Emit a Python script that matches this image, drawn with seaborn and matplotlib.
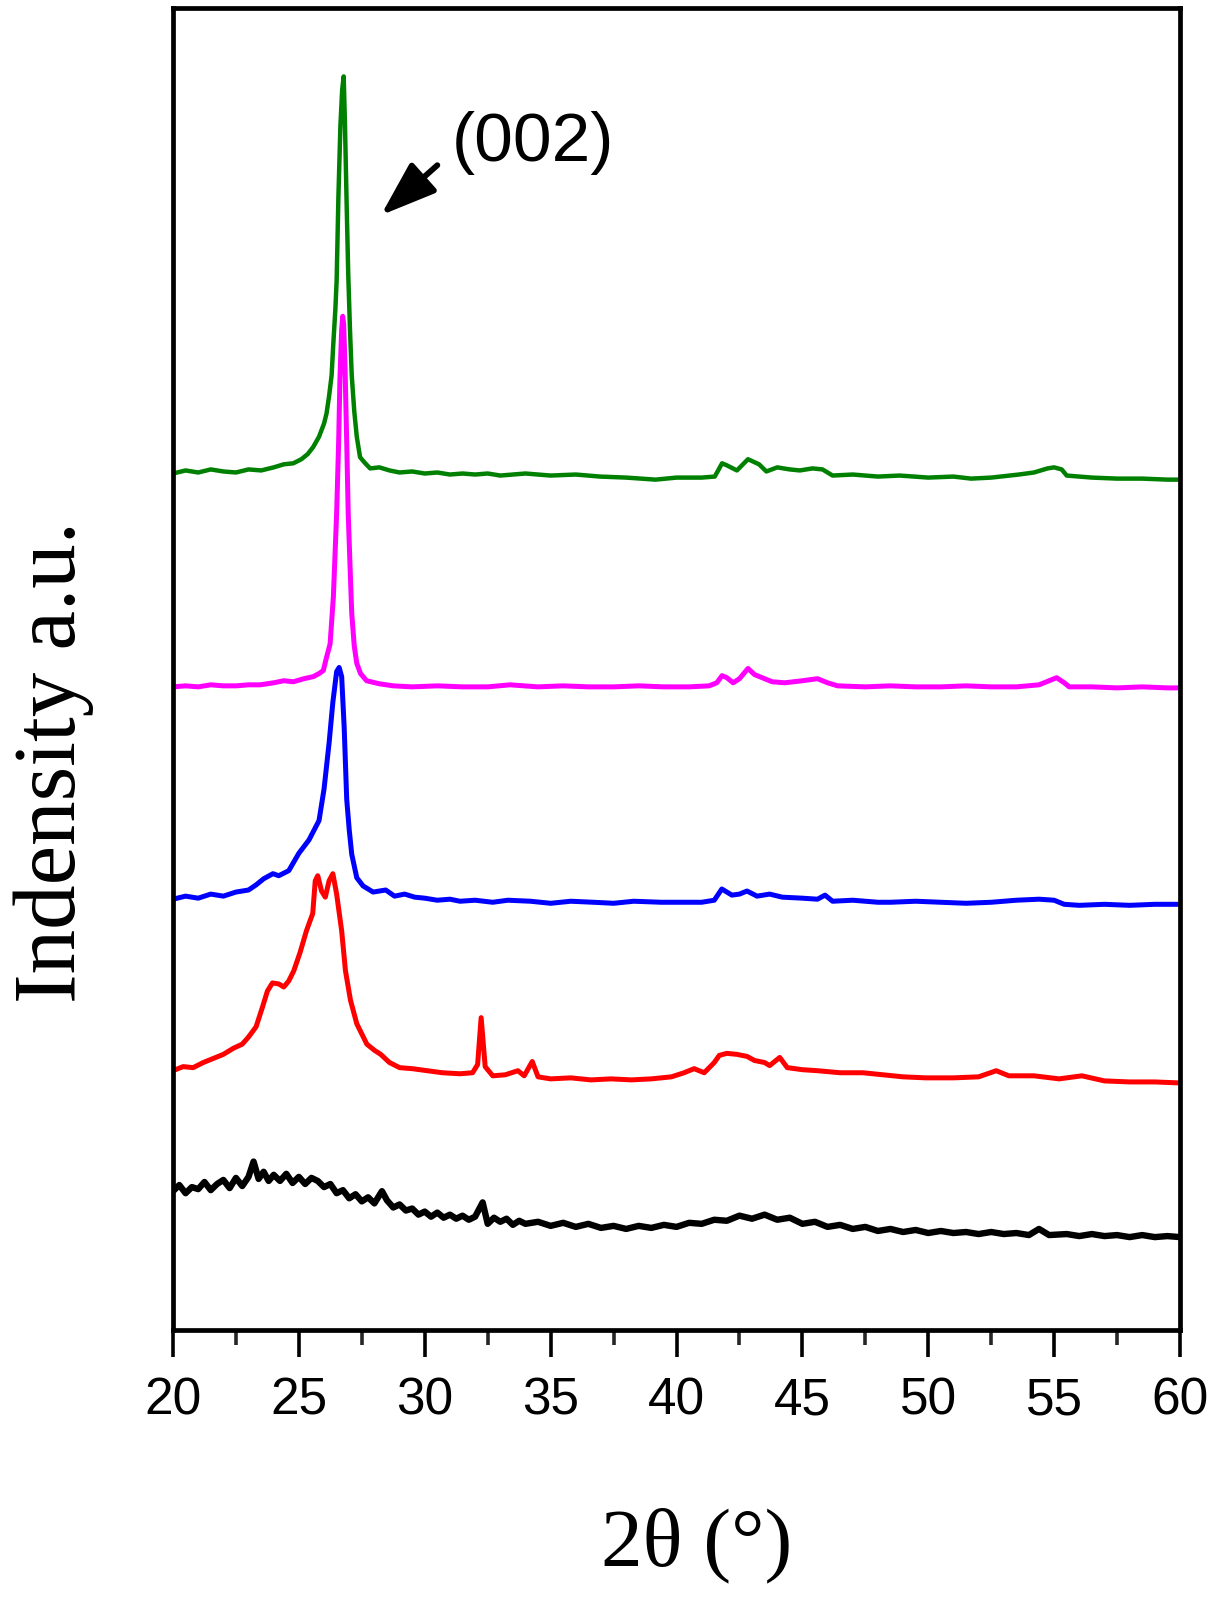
import numpy as np
import pandas as pd
import matplotlib
matplotlib.use("Agg")
import matplotlib.pyplot as plt
from matplotlib.ticker import MultipleLocator
import seaborn as sns

# ---------------- data ----------------
black_x = [20.0, 20.25, 20.5, 20.75, 21.0, 21.25, 21.5, 21.75, 22.0, 22.25, 22.5, 22.75,
           23.0, 23.2, 23.4, 23.6, 23.8, 24.0, 24.25, 24.5, 24.75, 25.0, 25.25, 25.5,
           25.75, 26.0, 26.25, 26.5, 26.75, 27.0, 27.25, 27.5, 27.75, 28.0, 28.3, 28.5,
           28.75, 29.0, 29.25, 29.5, 29.75, 30.0, 30.25, 30.5, 30.75, 31.0, 31.25, 31.5,
           31.75, 32.0, 32.3, 32.5, 32.75, 33.0, 33.25, 33.5, 33.75, 34.0, 34.5, 35.0,
           35.5, 36.0, 36.5, 37.0, 37.5, 38.0, 38.5, 39.0, 39.5, 40.0, 40.5, 41.0, 41.5,
           42.0, 42.5, 43.0, 43.5, 44.0, 44.5, 45.0, 45.5, 46.0, 46.5, 47.0, 47.5, 48.0,
           48.5, 49.0, 49.5, 50.0, 50.5, 51.0, 51.5, 52.0, 52.5, 53.0, 53.5, 54.0, 54.4,
           54.8, 55.5, 56.0, 56.5, 57.0, 57.5, 58.0, 58.5, 59.0, 59.5, 60.0]
black_y = [136, 142, 134, 140, 138, 145, 137, 143, 147, 139, 149, 141,
           150, 165, 148, 155, 146, 152, 146, 153, 144, 150, 143, 149,
           146, 140, 143, 134, 137, 129, 133, 126, 130, 124, 136, 127,
           120, 123, 117, 119, 113, 116, 111, 115, 110, 113, 109, 112,
           108, 111, 125, 104, 110, 106, 109, 103, 107, 104, 106, 102,
           105, 101, 104, 100, 102, 99, 102, 100, 103, 101, 105, 104, 108,
           107, 112, 109, 113, 108, 110, 104, 106, 101, 103, 99, 101, 97,
           99, 96, 98, 95, 97, 95, 96, 94, 96, 94, 95, 93, 99,
           93, 94, 92, 94, 92, 93, 91, 93, 91, 92, 91]

red_x = [20.0, 20.4, 20.8, 21.2, 21.6, 22.0, 22.4, 22.75, 23.0, 23.3, 23.55, 23.75,
         23.95, 24.2, 24.4, 24.6, 24.8, 25.05, 25.3, 25.55, 25.65, 25.75, 25.9, 26.05,
         26.2, 26.35, 26.5, 26.7, 26.85, 27.05, 27.3, 27.7, 28.0, 28.25, 28.6, 29.0,
         29.5, 30.1, 30.7, 31.4, 31.9, 32.1, 32.24, 32.4, 32.7, 33.2, 33.7, 33.95,
         34.27, 34.5, 35.0, 35.8, 36.6, 37.4, 38.2, 39.0, 39.8, 40.3, 40.7, 41.1,
         41.5, 41.7, 42.0, 42.4, 42.8, 43.1, 43.5, 43.7, 44.1, 44.4, 45.0, 45.6,
         46.5, 47.4, 48.2, 49.0, 49.9, 51.0, 52.0, 52.7, 53.2, 54.2, 55.2, 56.1,
         57.0, 58.0, 59.0, 60.0]
red_y = [254, 258, 257, 262, 266, 270, 276, 280, 287, 297, 316, 332,
         340, 339, 336, 342, 352, 370, 391, 408, 440, 445, 430, 424,
         440, 447, 427, 391, 352, 323, 300, 280, 274, 270, 262, 257,
         256, 254, 252, 251, 252, 260, 306, 258, 249, 250, 254, 249,
         263, 248, 246, 247, 245, 246, 245, 246, 248, 252, 256, 252,
         262, 269, 271, 270, 268, 264, 262, 259, 267, 257, 255, 254,
         252, 252, 250, 248, 247, 247, 248, 254, 249, 249, 246, 249,
         244, 243, 243, 242]

blue_x = [20.0, 20.5, 21.0, 21.5, 22.0, 22.5, 23.0, 23.3, 23.6, 23.97, 24.2, 24.6,
          25.0, 25.4, 25.8, 26.0, 26.2, 26.35, 26.5, 26.6, 26.7, 26.8, 26.9, 27.0,
          27.1, 27.3, 27.55, 27.95, 28.45, 28.8, 29.2, 29.6, 30.0, 30.5, 31.0, 31.4,
          32.0, 32.7, 33.3, 34.2, 35.0, 35.8, 36.7, 37.5, 38.3, 39.4, 40.2, 41.0,
          41.5, 41.8, 42.2, 42.5, 42.8, 43.2, 43.7, 44.2, 45.0, 45.6, 45.9, 46.2,
          47.0, 48.0, 48.5, 49.5, 50.5, 51.5, 52.5, 53.5, 54.4, 55.0, 55.4, 56.0,
          57.0, 58.0, 59.0, 60.0]
blue_y = [422, 425, 423, 427, 425, 429, 431, 436, 442, 447, 445, 450,
          467, 480, 499, 530, 575, 615, 645, 649, 640, 590, 520, 490,
          466, 443, 435, 429, 431, 425, 427, 424, 423, 421, 422, 420,
          421, 419, 421, 420, 418, 420, 419, 418, 420, 419, 419, 419,
          421, 432, 426, 427, 430, 425, 427, 424, 423, 422, 426, 420,
          421, 419, 419, 420, 419, 418, 419, 421, 422, 421, 417, 416,
          417, 416, 417, 417]

magenta_x = [20.0, 20.5, 21.0, 21.5, 22.0, 22.5, 23.0, 23.46, 24.0, 24.4, 24.78, 25.2,
             25.57, 25.8, 25.97, 26.10, 26.24, 26.37, 26.50, 26.58, 26.63, 26.70, 26.74,
             26.78, 26.83, 26.90, 26.96, 27.03, 27.10, 27.20, 27.30, 27.45, 27.69, 28.2,
             28.75, 29.5, 30.5, 31.5, 32.5, 33.39, 34.5, 35.5, 36.5, 37.5, 38.5, 39.5,
             40.5, 41.3, 41.6, 41.81, 42.0, 42.25, 42.5, 42.84, 43.1, 43.4, 43.8, 44.3,
             45.0, 45.6, 46.0, 46.4, 47.5, 48.5, 49.5, 50.5, 51.5, 52.5, 53.5, 54.4,
             54.8, 55.1, 55.4, 55.6, 56.5, 57.5, 58.5, 59.5, 60.0]
magenta_y = [630, 631, 630, 632, 631, 631, 632, 632, 634, 636, 635, 638,
             640, 643, 646, 659, 672, 718, 800, 870, 931, 980, 993,
             985, 947, 870, 800, 750, 702, 670, 653, 643, 636, 633,
             631, 630, 631, 630, 630, 632, 630, 631, 630, 630, 631, 630,
             630, 631, 634, 641, 639, 634, 638, 648, 642, 639, 635, 634,
             636, 638, 634, 631, 630, 631, 630, 630, 631, 630, 630, 632,
             636, 639, 634, 630, 630, 629, 630, 629, 629]

green_x = [20.0, 20.5, 21.0, 21.5, 22.0, 22.5, 23.0, 23.5, 24.0, 24.4, 24.78, 25.1,
           25.35, 25.57, 25.8, 26.0, 26.1, 26.2, 26.3, 26.37, 26.45, 26.5, 26.57, 26.65,
           26.72, 26.78, 26.83, 26.9, 26.96, 27.03, 27.1, 27.2, 27.3, 27.43, 27.6, 27.83,
           28.2, 28.6, 29.0, 29.5, 30.0, 30.5, 31.0, 31.5, 32.0, 32.5, 33.0, 33.5,
           34.0, 35.0, 36.0, 36.96, 38.0, 39.17, 40.0, 41.0, 41.52, 41.81, 42.0, 42.4,
           42.84, 43.28, 43.57, 44.0, 44.5, 44.9, 45.4, 45.8, 46.2, 47.0, 48.0, 48.87,
           50.0, 51.0, 51.7, 52.5, 53.6, 54.2, 54.74, 55.0, 55.3, 55.5, 56.5, 57.5,
           58.5, 59.5, 60.0]
green_y = [839, 842, 840, 843, 841, 840, 843, 842, 845, 848, 849, 853,
           858, 865, 875, 888, 898, 915, 935, 967, 1000, 1028, 1110, 1180,
           1215, 1228, 1182, 1100, 1035, 980, 935, 900, 875, 855, 850, 844,
           845, 842, 840, 841, 839, 840, 838, 839, 838, 839, 837, 838,
           839, 837, 838, 836, 835, 833, 835, 835, 836, 849, 847, 842,
           853, 848, 841, 845, 843, 842, 844, 843, 837, 838, 836, 837,
           835, 836, 834, 835, 838, 840, 844, 845, 843, 837, 835, 834,
           834, 833, 833]

series_names = ["black", "red", "blue", "magenta", "green"]
series_colors = ["#000000", "#FF0000", "#0000FF", "#FF00FF", "#008000"]
x_ticks = [20, 25, 30, 35, 40, 45, 50, 55, 60]
peak_label = "(002)"
x_label = "2\u03b8 (\u00b0)"
y_label = "Indensity a.u."

# ---------------- build long-form table ----------------
frames = []
for name, xs, ys in [("black", black_x, black_y), ("red", red_x, red_y),
                     ("blue", blue_x, blue_y), ("magenta", magenta_x, magenta_y),
                     ("green", green_x, green_y)]:
    frames.append(pd.DataFrame({"two_theta": xs, "intensity": ys, "sample": name}))
df = pd.concat(frames, ignore_index=True)

# ---------------- figure ----------------
sns.set_theme(style="white")
plt.rcParams["font.family"] = ["Liberation Sans", "DejaVu Sans"]

fig = plt.figure(figsize=(12.16, 15.99), dpi=100)
ax = fig.add_axes([173 / 1216, 1 - 1330 / 1599, 1007 / 1216, 1322 / 1599])

line_widths = {"black": 4.6, "red": 3.6, "blue": 3.6, "magenta": 3.6, "green": 3.2}
for name, color in zip(series_names, series_colors):
    sub = df[df["sample"] == name]
    sns.lineplot(data=sub, x="two_theta", y="intensity", color=color,
                 estimator=None, sort=False, legend=False,
                 linewidth=line_widths[name], ax=ax)

ax.set_xlim(20, 60)
ax.set_ylim(0, 1295)
ax.set_xticks(x_ticks)
ax.set_xticklabels([str(t) for t in x_ticks])
ax.xaxis.set_minor_locator(MultipleLocator(2.5))
ax.set_yticks([])

for sp in ax.spines.values():
    sp.set_visible(True)
    sp.set_color("black")
    sp.set_linewidth(3.4)

ax.tick_params(axis="x", which="major", direction="out", length=19.5, width=2.6,
               pad=14, labelsize=37, colors="black", bottom=True, top=False)
ax.tick_params(axis="x", which="minor", direction="out", length=11, width=2.6,
               bottom=True, top=False)

serif = ["Liberation Serif", "DejaVu Serif"]
ax.set_xlabel(x_label, fontsize=60, family=serif, color="black")
ax.xaxis.set_label_coords(0.52, -0.163)
ax.xaxis.label.set_va("center")
ax.set_ylabel(y_label, fontsize=64, family=serif, color="black")
ax.yaxis.set_label_coords(-0.119, 0.43)
ax.yaxis.label.set_va("center")

# (002) annotation
ax.annotate("", xy=(28.26, 1092), xytext=(30.5, 1141),
            arrowprops=dict(arrowstyle="-|>,head_length=1.7,head_width=0.6",
                            lw=4.2, color="black", shrinkA=0, shrinkB=0,
                            mutation_scale=20))
ax.text(31.08, 1163, peak_label, fontsize=50, ha="left", va="center", color="black")

fig.savefig("out.png", dpi=100, facecolor="white")
